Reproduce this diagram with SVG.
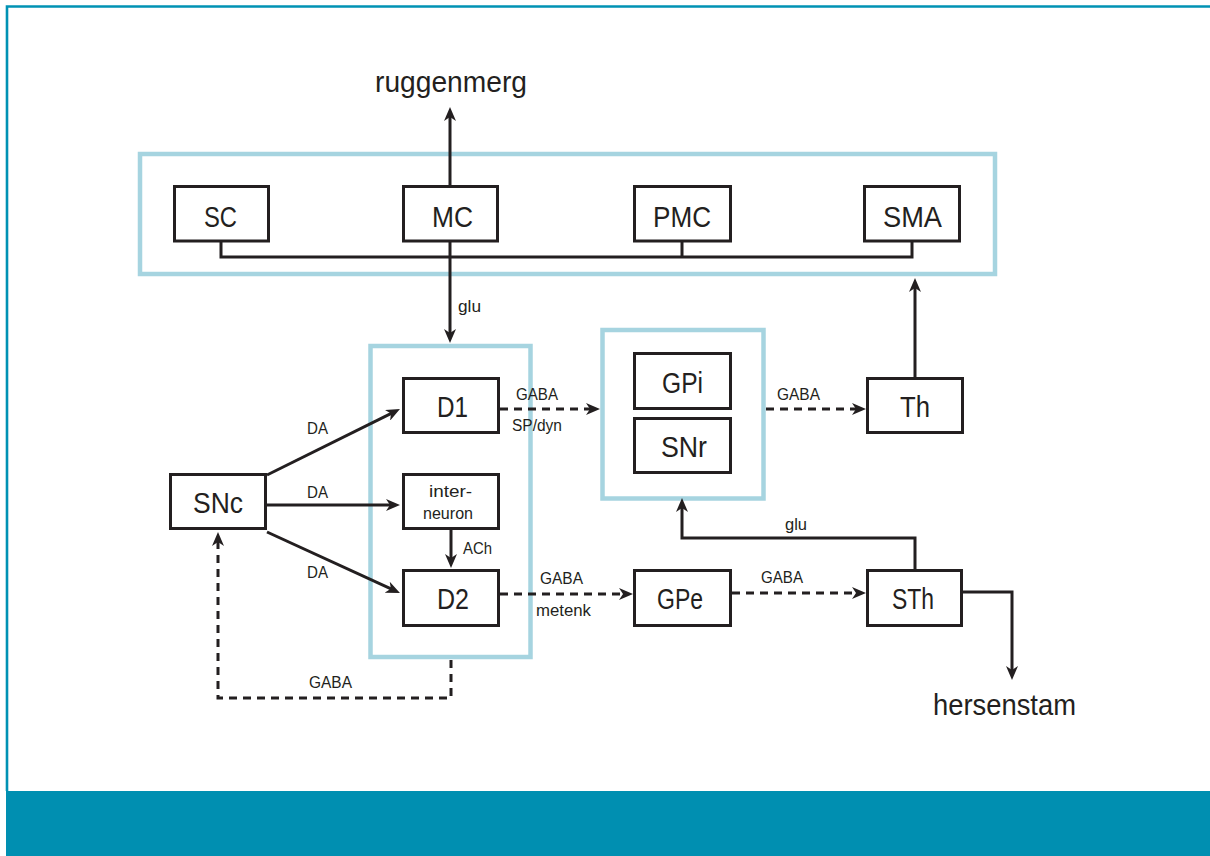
<svg xmlns="http://www.w3.org/2000/svg" width="1210" height="856" viewBox="0 0 1210 856">
  <style>
    .frame { fill: none; stroke: #0092b4; stroke-width: 2.6; }
    .band { fill: #008fb1; }
    .group { fill: none; stroke: #a6d4e0; stroke-width: 4.5; }
    .box { fill: #ffffff; stroke: #231f20; stroke-width: 3; }
    .line { fill: none; stroke: #231f20; stroke-width: 3; }
    .dash { stroke-dasharray: 8 6; }
    .lbl { font-family: "Liberation Sans", Arial, sans-serif; fill: #231f20; }
    .big { font-size: 30px; text-anchor: middle; }
    .small { font-size: 16px; }
    .mid { font-size: 16px; text-anchor: middle; }
    .ext { font-size: 29px; text-anchor: middle; }
  </style>
  <defs>
    <marker id="arrow" viewBox="0 0 14 12" markerUnits="userSpaceOnUse" markerWidth="14" markerHeight="12" refX="6" refY="6" orient="auto">
      <path d="M0,0 L14,6 L0,12 L4,6 Z" fill="#231f20"/>
    </marker>
  </defs>

  <!-- page frame and footer band -->
  <path class="frame" d="M7,791 V6.5 H1210"/>
  <rect class="band" x="6" y="791" width="1204" height="65"/>

  <!-- grouping frames -->
  <rect id="cortex" class="group" x="140" y="154" width="855" height="120"/>
  <rect id="striatum" class="group" x="370.5" y="346" width="160" height="311"/>
  <rect id="output-nuclei" class="group" x="602.5" y="330" width="161" height="168.5"/>

  <!-- connectors -->
  <g id="connectors">
    <!-- cortical bus -->
    <path class="line" d="M221,241 V257 H912 V241 M682,241 V257"/>
    <!-- MC to spinal cord -->
    <path class="line" d="M450,186 V115" marker-end="url(#arrow)"/>
    <!-- MC to striatum -->
    <path class="line" d="M450,241 V335" marker-end="url(#arrow)"/>
    <!-- SNc projections -->
    <path class="line" d="M267,475 L392.8,412.6" marker-end="url(#arrow)"/>
    <path class="line" d="M267,505 H392" marker-end="url(#arrow)"/>
    <path class="line" d="M267,532 L392.7,589.7" marker-end="url(#arrow)"/>
    <!-- interneuron to D2 -->
    <path class="line" d="M451,530 V560" marker-end="url(#arrow)"/>
    <!-- striatum back to SNc -->
    <path class="line dash" d="M451,660 V698 H218 V540" marker-end="url(#arrow)"/>
    <!-- direct pathway -->
    <path class="line dash" d="M500,409 H592" marker-end="url(#arrow)"/>
    <path class="line dash" d="M766,409 H858" marker-end="url(#arrow)"/>
    <!-- thalamus to SMA -->
    <path class="line" d="M915,377 V286" marker-end="url(#arrow)"/>
    <!-- indirect pathway -->
    <path class="line dash" d="M500,594 H625" marker-end="url(#arrow)"/>
    <path class="line dash" d="M732,593 H858" marker-end="url(#arrow)"/>
    <!-- STh to GPi/SNr -->
    <path class="line" d="M915,569 V538 H682 V506" marker-end="url(#arrow)"/>
    <!-- STh to brainstem -->
    <path class="line" d="M963,592 H1012 V672" marker-end="url(#arrow)"/>
  </g>

  <!-- connector labels -->
  <g id="connector-labels" class="lbl small">
    <text x="458" y="312" textLength="23" lengthAdjust="spacingAndGlyphs">glu</text>
    <text x="307" y="434" textLength="21" lengthAdjust="spacingAndGlyphs">DA</text>
    <text x="307" y="498" textLength="21" lengthAdjust="spacingAndGlyphs">DA</text>
    <text x="307" y="578" textLength="21" lengthAdjust="spacingAndGlyphs">DA</text>
    <text x="516" y="400" textLength="42" lengthAdjust="spacingAndGlyphs">GABA</text>
    <text x="512" y="431" textLength="50" lengthAdjust="spacingAndGlyphs">SP/dyn</text>
    <text x="463" y="554" textLength="29" lengthAdjust="spacingAndGlyphs">ACh</text>
    <text x="309" y="688" textLength="43" lengthAdjust="spacingAndGlyphs">GABA</text>
    <text x="540" y="584" textLength="43" lengthAdjust="spacingAndGlyphs">GABA</text>
    <text x="536" y="616" textLength="55" lengthAdjust="spacingAndGlyphs">metenk</text>
    <text x="777" y="400" textLength="43" lengthAdjust="spacingAndGlyphs">GABA</text>
    <text x="785" y="530" textLength="22" lengthAdjust="spacingAndGlyphs">glu</text>
    <text x="761" y="583" textLength="42" lengthAdjust="spacingAndGlyphs">GABA</text>
  </g>

  <!-- external targets -->
  <text id="ruggenmerg" class="lbl ext" x="451" y="92" textLength="152" lengthAdjust="spacingAndGlyphs">ruggenmerg</text>
  <text id="hersenstam" class="lbl ext" x="1004.5" y="715" textLength="143" lengthAdjust="spacingAndGlyphs">hersenstam</text>

  <!-- nodes -->
  <g id="SC">
    <rect class="box" x="174.5" y="186.5" width="94" height="54.5"/>
    <text class="lbl big" x="220.5" y="227" textLength="33" lengthAdjust="spacingAndGlyphs">SC</text>
  </g>
  <g id="MC">
    <rect class="box" x="403.5" y="186.5" width="94" height="54.5"/>
    <text class="lbl big" x="452.5" y="227" textLength="41" lengthAdjust="spacingAndGlyphs">MC</text>
  </g>
  <g id="PMC">
    <rect class="box" x="634.5" y="186.5" width="96" height="54.5"/>
    <text class="lbl big" x="682" y="227" textLength="58" lengthAdjust="spacingAndGlyphs">PMC</text>
  </g>
  <g id="SMA">
    <rect class="box" x="864.5" y="186.5" width="95" height="54.5"/>
    <text class="lbl big" x="912.5" y="227" textLength="59" lengthAdjust="spacingAndGlyphs">SMA</text>
  </g>
  <g id="D1">
    <rect class="box" x="403.5" y="378.5" width="95" height="54"/>
    <text class="lbl big" x="452.5" y="417" textLength="31" lengthAdjust="spacingAndGlyphs">D1</text>
  </g>
  <g id="interneuron">
    <rect class="box" x="403.5" y="474.5" width="95" height="54"/>
    <text class="lbl mid" x="450.5" y="497" textLength="43" lengthAdjust="spacingAndGlyphs">inter-</text>
    <text class="lbl mid" x="448" y="519" textLength="50" lengthAdjust="spacingAndGlyphs">neuron</text>
  </g>
  <g id="D2">
    <rect class="box" x="403.5" y="570.5" width="95" height="55"/>
    <text class="lbl big" x="453" y="609" textLength="32" lengthAdjust="spacingAndGlyphs">D2</text>
  </g>
  <g id="SNc">
    <rect class="box" x="170.5" y="474.5" width="95" height="54"/>
    <text class="lbl big" x="218" y="513" textLength="50" lengthAdjust="spacingAndGlyphs">SNc</text>
  </g>
  <g id="GPi">
    <rect class="box" x="634.5" y="353.5" width="96" height="55"/>
    <text class="lbl big" x="682.5" y="393" textLength="41" lengthAdjust="spacingAndGlyphs">GPi</text>
  </g>
  <g id="SNr">
    <rect class="box" x="634.5" y="418.5" width="96" height="54"/>
    <text class="lbl big" x="684" y="457" textLength="46" lengthAdjust="spacingAndGlyphs">SNr</text>
  </g>
  <g id="Th">
    <rect class="box" x="867.5" y="378.5" width="95" height="54"/>
    <text class="lbl big" x="915" y="417" textLength="30" lengthAdjust="spacingAndGlyphs">Th</text>
  </g>
  <g id="GPe">
    <rect class="box" x="634.5" y="570.5" width="96" height="55"/>
    <text class="lbl big" x="680" y="609" textLength="46" lengthAdjust="spacingAndGlyphs">GPe</text>
  </g>
  <g id="STh">
    <rect class="box" x="867.5" y="570.5" width="94" height="55"/>
    <text class="lbl big" x="913" y="609" textLength="42" lengthAdjust="spacingAndGlyphs">STh</text>
  </g>
</svg>
